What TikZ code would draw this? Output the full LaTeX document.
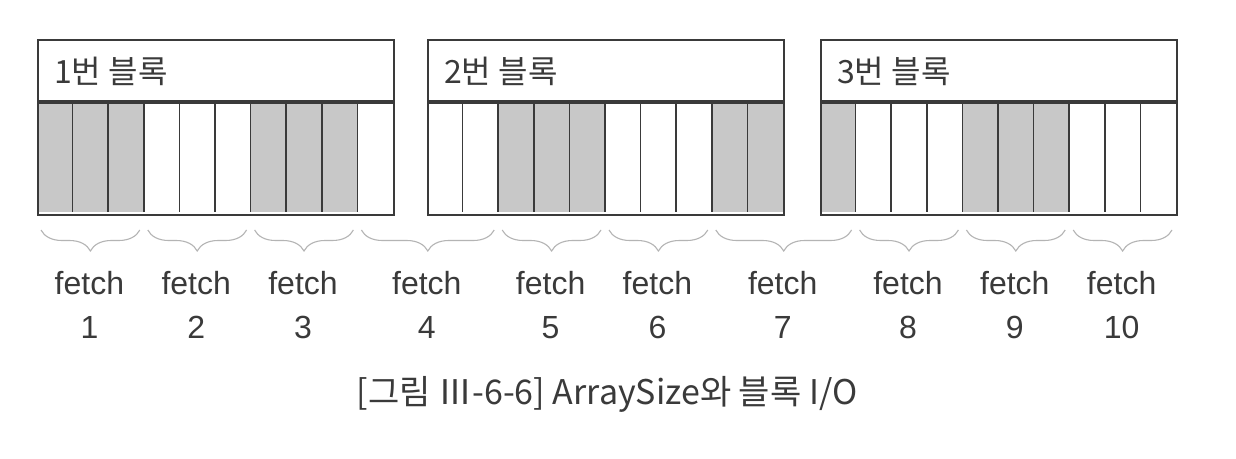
\documentclass[tikz,border=0pt]{standalone}
\usepackage{fontspec}
\setsansfont{Liberation Sans}
\newfontfamily\krfont{Noto Sans CJK KR}
\usetikzlibrary{decorations.pathreplacing,calc}
\definecolor{ink}{HTML}{3A3A3A}
\definecolor{cellgrey}{HTML}{C8C8C8}
\definecolor{bracegrey}{HTML}{B4B4B4}
\begin{document}
\begin{tikzpicture}[x=1pt,y=-1pt,
  boxline/.style={draw=ink,line width=1.8pt},
  headbox/.style={boxline,fill=white,minimum width=356pt,minimum height=61pt,anchor=north west,inner sep=0pt},
  bodybox/.style={boxline,minimum width=356pt,minimum height=112pt,anchor=north west,inner sep=0pt},
  headtext/.style={anchor=base west,font=\krfont\fontsize{32}{36}\selectfont,text=ink,inner sep=0pt},
  fbrace/.style={draw=bracegrey,line width=1.1pt,decorate,decoration={brace,mirror,amplitude=21pt}},
  flabel/.style={anchor=base,font=\sffamily\fontsize{32}{36}\selectfont,text=ink,inner sep=0pt},
  caption/.style={anchor=base,font=\krfont\fontsize{34}{38}\selectfont,text=ink,inner sep=0pt}]
\useasboundingbox (0,0) rectangle (1236,458);
\fill[white] (0,0) rectangle (1236,458);
% cell width
\def\cw{35.6}
% grey cells
\foreach \i in {0,1,2,6,7,8} \fill[cellgrey] ({37+\i*\cw},100) rectangle ++(\cw,112);
\foreach \i in {2,3,4,8,9} \fill[cellgrey] ({427+\i*\cw},100) rectangle ++(\cw,112);
\foreach \i in {0,4,5,6} \fill[cellgrey] ({820+\i*\cw},100) rectangle ++(\cw,112);
% cell boundaries (bottom corners)
\foreach \b/\x in {A/37,B/427,C/820}{
  \foreach \k in {0,...,10} \coordinate (\b\k) at ({\x+\k*\cw},212);
  \foreach \k in {1,...,9} \draw[draw=ink,line width=1.6pt] ({\x+\k*\cw},100) -- ({\x+\k*\cw},212);
}
% blocks
\node[headbox] (h1) at (37,39) {};
\node[bodybox] (b1) at (h1.south west) {};
\node[headbox] (h2) at (427,39) {};
\node[bodybox] (b2) at (h2.south west) {};
\node[headbox] (h3) at (820,39) {};
\node[bodybox] (b3) at (h3.south west) {};
\node[headtext] (t1) at (54,83) {1번 블록};
\node[headtext] (t2) at (444,83) {2번 블록};
\node[headtext] (t3) at (837,83) {3번 블록};
% braces and labels
\foreach \n/\s/\e in {1/A0/A3,2/A3/A6,3/A6/A9,4/A9/B2,5/B2/B5,6/B5/B8,7/B8/C1,8/C1/C4,9/C4/C7,10/C7/C10}{
  \coordinate (bs\n) at ([shift={(4,18)}]\s);
  \coordinate (be\n) at ([shift={(-4,18)}]\e);
  \draw[fbrace] (bs\n) -- (be\n);
  \node[flabel] (f\n) at ($(bs\n)!0.5!(be\n)+(-1,64)$) {fetch};
  \node[flabel] (n\n) at ($(bs\n)!0.5!(be\n)+(-1,108)$) {\n};
}
\node[caption] (cap) at (607,404) {[그림 Ⅲ-6-6] ArraySize와 블록 I/O};
\end{tikzpicture}
\end{document}
